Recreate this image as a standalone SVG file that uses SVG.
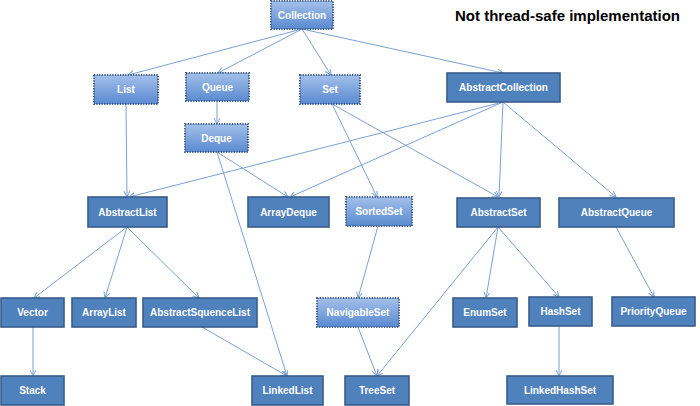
<svg xmlns="http://www.w3.org/2000/svg" width="700" height="406" viewBox="0 0 700 406">
<defs>
<linearGradient id="ig" x1="0" y1="0" x2="0" y2="1">
<stop offset="0" stop-color="#A3C0EA"/>
<stop offset="1" stop-color="#5A8AD0"/>
</linearGradient>
<marker id="ah" markerWidth="8" markerHeight="8" refX="6" refY="3" orient="auto" markerUnits="userSpaceOnUse">
<path d="M0,0 L6,3 L0,6" fill="none" stroke="#7BA0D4" stroke-width="1"/>
</marker>
<style>
.c rect{fill:#4F81BD;stroke:#385D8A;stroke-width:1.6}
.i rect{fill:url(#ig);stroke:#3E5F8E;stroke-width:2;stroke-dasharray:1.3 1.3}
text.l{font-family:"Liberation Sans",Arial,sans-serif;font-weight:bold;font-size:10px;fill:#FFFFFF;text-anchor:middle}
#edges line{stroke:#7BA0D4;stroke-width:1;marker-end:url(#ah)}
</style>
</defs>
<rect width="700" height="406" fill="#FFFFFF"/>
<text x="455" y="21" font-family="'Liberation Sans',Arial,sans-serif" font-weight="bold" font-size="15" fill="#000000">Not thread-safe implementation</text>
<g id="edges">
<line x1="302" y1="29" x2="128" y2="75"/>
<line x1="302" y1="29" x2="218" y2="73"/>
<line x1="302" y1="29" x2="331" y2="75"/>
<line x1="302" y1="29" x2="503" y2="73"/>
<line x1="217" y1="101" x2="217" y2="124"/>
<line x1="126" y1="104" x2="127" y2="197"/>
<line x1="217" y1="152" x2="288" y2="197"/>
<line x1="217" y1="152" x2="287" y2="376"/>
<line x1="503" y1="102" x2="129" y2="197"/>
<line x1="503" y1="102" x2="290" y2="197"/>
<line x1="503" y1="102" x2="499" y2="197"/>
<line x1="503" y1="102" x2="616" y2="197"/>
<line x1="332" y1="104" x2="377" y2="197"/>
<line x1="332" y1="104" x2="498" y2="197"/>
<line x1="378" y1="226" x2="358" y2="298"/>
<line x1="358" y1="327" x2="377" y2="376"/>
<line x1="498" y1="227" x2="377" y2="376"/>
<line x1="498" y1="227" x2="486" y2="298"/>
<line x1="498" y1="227" x2="559" y2="297"/>
<line x1="559" y1="326" x2="559" y2="376"/>
<line x1="616" y1="227" x2="654" y2="297"/>
<line x1="127" y1="227" x2="34" y2="298"/>
<line x1="127" y1="227" x2="105" y2="298"/>
<line x1="127" y1="227" x2="199" y2="298"/>
<line x1="33" y1="327" x2="33" y2="376"/>
<line x1="202" y1="327" x2="287" y2="376"/>
</g>
<g id="Collection" class="i"><rect x="271" y="1" width="62" height="28"/><text class="l" x="302" y="19">Collection</text></g>
<g id="List" class="i"><rect x="94" y="75" width="64" height="29"/><text class="l" x="126" y="93">List</text></g>
<g id="Queue" class="i"><rect x="186" y="73" width="63" height="28"/><text class="l" x="217.5" y="91">Queue</text></g>
<g id="Set" class="i"><rect x="300" y="75" width="60" height="29"/><text class="l" x="330" y="93">Set</text></g>
<g id="AbstractCollection" class="c"><rect x="447" y="73" width="113" height="29"/><text class="l" x="503.5" y="91">AbstractCollection</text></g>
<g id="Deque" class="i"><rect x="185" y="124" width="63" height="28"/><text class="l" x="216.5" y="142">Deque</text></g>
<g id="AbstractList" class="c"><rect x="88" y="197" width="79" height="30"/><text class="l" x="127.5" y="216">AbstractList</text></g>
<g id="ArrayDeque" class="c"><rect x="248" y="197" width="81" height="30"/><text class="l" x="288.5" y="216">ArrayDeque</text></g>
<g id="SortedSet" class="i"><rect x="346" y="197" width="66" height="29"/><text class="l" x="379" y="215">SortedSet</text></g>
<g id="AbstractSet" class="c"><rect x="457" y="198" width="83" height="29"/><text class="l" x="498.5" y="216">AbstractSet</text></g>
<g id="AbstractQueue" class="c"><rect x="559" y="198" width="115" height="29"/><text class="l" x="616.5" y="216">AbstractQueue</text></g>
<g id="Vector" class="c"><rect x="1" y="298" width="63" height="29"/><text class="l" x="32.5" y="316">Vector</text></g>
<g id="ArrayList" class="c"><rect x="72" y="298" width="64" height="29"/><text class="l" x="104" y="316">ArrayList</text></g>
<g id="AbstractSquenceList" class="c"><rect x="143" y="298" width="114" height="29"/><text class="l" x="200" y="316">AbstractSquenceList</text></g>
<g id="NavigableSet" class="i"><rect x="317" y="298" width="82" height="29"/><text class="l" x="358" y="316">NavigableSet</text></g>
<g id="EnumSet" class="c"><rect x="453" y="298" width="64" height="29"/><text class="l" x="485" y="316">EnumSet</text></g>
<g id="HashSet" class="c"><rect x="529" y="297" width="63" height="29"/><text class="l" x="560.5" y="315">HashSet</text></g>
<g id="PriorityQueue" class="c"><rect x="612" y="297" width="83" height="29"/><text class="l" x="653.5" y="315">PriorityQueue</text></g>
<g id="Stack" class="c"><rect x="1" y="376" width="63" height="29"/><text class="l" x="32.5" y="394">Stack</text></g>
<g id="LinkedList" class="c"><rect x="252" y="376" width="71" height="29"/><text class="l" x="287.5" y="394">LinkedList</text></g>
<g id="TreeSet" class="c"><rect x="345" y="376" width="64" height="29"/><text class="l" x="377" y="394">TreeSet</text></g>
<g id="LinkedHashSet" class="c"><rect x="507" y="376" width="106" height="28"/><text class="l" x="560" y="394">LinkedHashSet</text></g>
</svg>
